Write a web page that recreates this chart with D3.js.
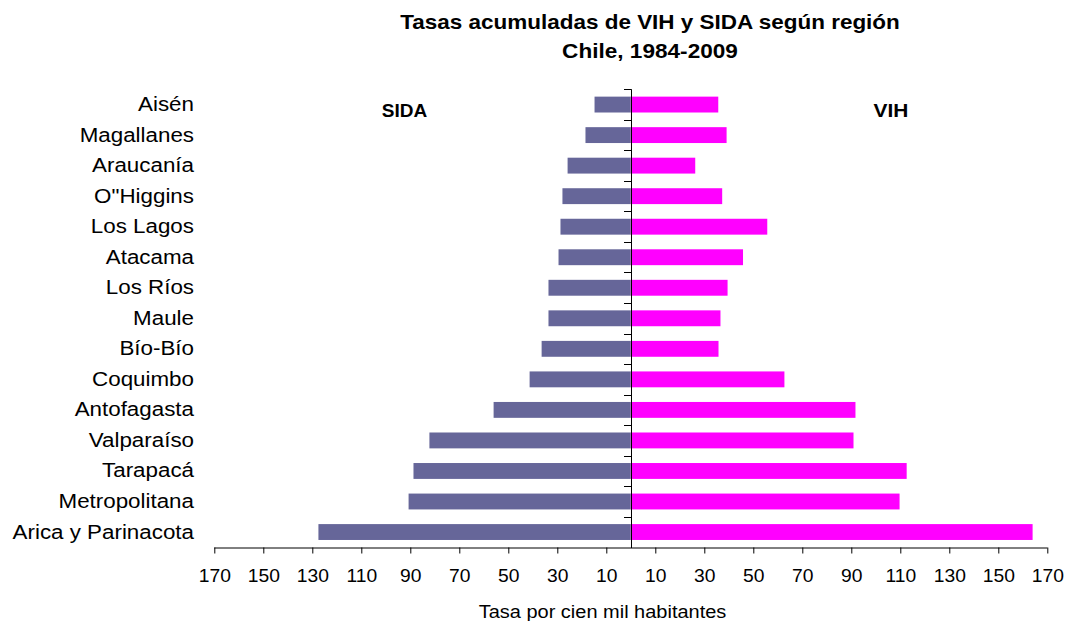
<!DOCTYPE html>
<html>
<head>
<meta charset="utf-8">
<script src="https://cdn.jsdelivr.net/npm/d3@7"></script>
<style>
  html, body { margin: 0; padding: 0; background: #fff; }
  svg { display: block; font-family: "Liberation Sans", Arial, sans-serif; }
</style>
</head>
<body>
<svg id="chart" width="1066" height="621"></svg>
<script>
const categories = ["Aisén", "Magallanes", "Araucanía", "O\"Higgins", "Los Lagos", "Atacama", "Los Ríos", "Maule", "Bío-Bío", "Coquimbo", "Antofagasta", "Valparaíso", "Tarapacá", "Metropolitana", "Arica y Parinacota"];
const sida = [14.8, 18.5, 25.8, 27.9, 28.7, 29.5, 33.6, 33.6, 36.4, 41.3, 56.0, 82.2, 88.7, 90.7, 127.5];
const vih = [35.7, 39.1, 26.3, 37.3, 55.7, 45.8, 39.5, 36.6, 35.8, 62.7, 91.7, 90.9, 112.6, 109.7, 164.0];
const tickValues = [-170, -150, -130, -110, -90, -70, -50, -30, -10, 10, 30, 50, 70, 90, 110, 130, 150, 170];
const titleLines = ["Tasas acumuladas de VIH y SIDA según región", "Chile, 1984-2009"];
const xTitle = "Tasa por cien mil habitantes";
const seriesNames = ["SIDA", "VIH"];

const svg = d3.select("#chart");
const x = d3.scaleLinear().domain([-170, 170]).range([214.3, 1047.3]);
const y = d3.scaleBand().domain(categories).range([89.3, 547.3]).paddingInner(0.48).paddingOuter(0.24);

function stext(g, tx, ty, str, size, anchor, weight, sx) {
  return g.append("text")
    .attr("transform", `translate(${tx},${ty}) scale(${sx},1)`)
    .attr("text-anchor", anchor)
    .attr("font-size", size)
    .attr("font-weight", weight || "normal")
    .attr("fill", "#000")
    .text(str);
}

// Title
stext(svg, 650, 29, titleLines[0], 20, "middle", "bold", 1.125);
stext(svg, 650, 58, titleLines[1], 20, "middle", "bold", 1.13);

// Bars
svg.append("g").selectAll("rect").data(categories).join("rect")
  .attr("x", (d, i) => x(-sida[i]))
  .attr("y", d => y(d))
  .attr("width", (d, i) => x(0) - x(-sida[i]))
  .attr("height", y.bandwidth())
  .attr("fill", "#666699");
svg.append("g").selectAll("rect").data(categories).join("rect")
  .attr("x", x(0))
  .attr("y", d => y(d))
  .attr("width", (d, i) => x(vih[i]) - x(0))
  .attr("height", y.bandwidth())
  .attr("fill", "#FF00FF");

// X axis
const xAxis = d3.axisBottom(x).tickValues(tickValues).tickSize(6).tickSizeOuter(0)
  .tickFormat(d => Math.abs(d));
const gx = svg.append("g").attr("transform", "translate(0,547.5)").call(xAxis);
gx.select(".domain").attr("stroke", "#000").attr("d", `M${x(-170)},0.5H${x(170)}`);
gx.selectAll(".tick line").attr("stroke", "#000");
gx.selectAll(".tick text")
  .attr("y", null).attr("dy", null)
  .attr("transform", "translate(0,34.5) scale(1.07,1)")
  .attr("font-size", 18).attr("font-family", "Liberation Sans, Arial, sans-serif")
  .attr("fill", "#000");

// Y axis at zero
const step = y.step();
const y0 = y.range()[0];
const boundaries = d3.range(categories.length + 1).map(i => y0 + i * step);
const gy = svg.append("g");
gy.append("line")
  .attr("x1", Math.round(x(0)) + 0.5).attr("x2", Math.round(x(0)) + 0.5)
  .attr("y1", boundaries[0]).attr("y2", 548)
  .attr("stroke", "#000");
gy.selectAll("line.tk").data(boundaries.slice(0, -1)).join("line")
  .attr("class", "tk")
  .attr("x1", Math.round(x(0)) - 7).attr("x2", Math.round(x(0)) + 0.5)
  .attr("y1", d => Math.round(d) + 0.5).attr("y2", d => Math.round(d) + 0.5)
  .attr("stroke", "#000");

// Category labels
const gl = svg.append("g");
categories.forEach(c => {
  stext(gl, 194, y(c) + y.bandwidth() / 2 + 6.5, c, 21, "end", "normal", 1.065);
});

// Series labels
stext(svg, 404.5, 117, seriesNames[0], 19, "middle", "bold", 1.0);
stext(svg, 891, 117, seriesNames[1], 19, "middle", "bold", 1.1);

// X title
stext(svg, 602.5, 618, xTitle, 18.5, "middle", "normal", 1.08);
</script>
</body>
</html>
